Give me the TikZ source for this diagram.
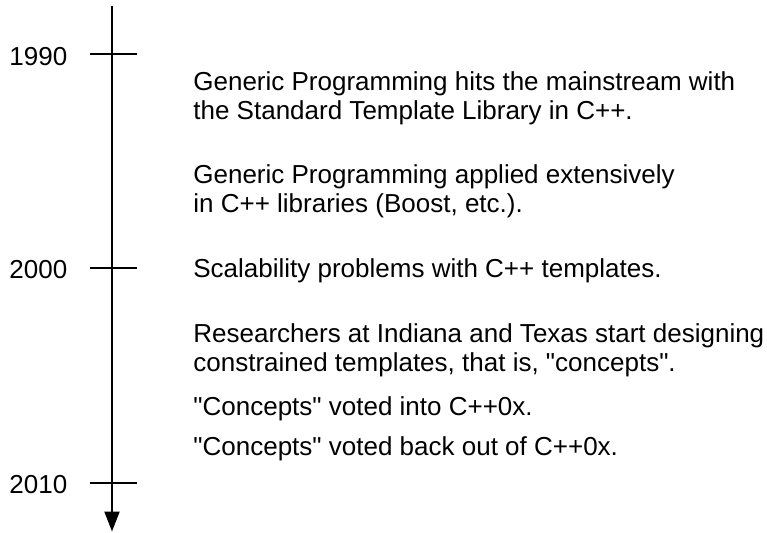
\documentclass[tikz,border=0pt]{standalone}
\usepackage{fontspec}
\setmainfont{Liberation Sans}
\usetikzlibrary{arrows.meta}
\begin{document}
\begin{tikzpicture}[x=0.5pt,y=-0.5pt,
  axisline/.style={line width=1pt},
  yearlbl/.style={anchor=base west,inner sep=0pt,font=\fontsize{13pt}{15pt}\selectfont},
  event/.style={anchor=base west,inner sep=0pt,align=left,font=\fontsize{13pt}{14.5pt}\selectfont}]
\useasboundingbox (0,0) rectangle (767,532);
\coordinate (top) at (112,6);
\coordinate (bottom) at (112,531.5);
\draw[axisline,-{Triangle[length=10pt,width=7.5pt]}] (top) -- (bottom);
% ticks
\foreach \y/\n in {54/a,268/b,483/c}{
  \coordinate (t\n l) at (90,\y);
  \coordinate (t\n r) at (137,\y);
  \draw[axisline] (t\n l) -- (t\n r);
}
\node[yearlbl] (y1990) at (9,65) {1990};
\node[yearlbl] (y2000) at (9,278) {2000};
\node[yearlbl] (y2010) at (9,493) {2010};
\node[event] (e1) at (193,119) {Generic Programming hits the mainstream with\\the Standard Template Library in C++.};
\node[event] (e2) at (193,212) {Generic Programming applied extensively\\in C++ libraries (Boost, etc.).};
\node[event] (e3) at (193,277) {Scalability problems with C++ templates.};
\node[event] (e4) at (193,371) {Researchers at Indiana and Texas start designing\\constrained templates, that is, \textquotedbl concepts\textquotedbl.};
\node[event] (e5) at (193,415) {\textquotedbl Concepts\textquotedbl{} voted into C++0x.};
\node[event] (e6) at (193,455) {\textquotedbl Concepts\textquotedbl{} voted back out of C++0x.};
\end{tikzpicture}
\end{document}
